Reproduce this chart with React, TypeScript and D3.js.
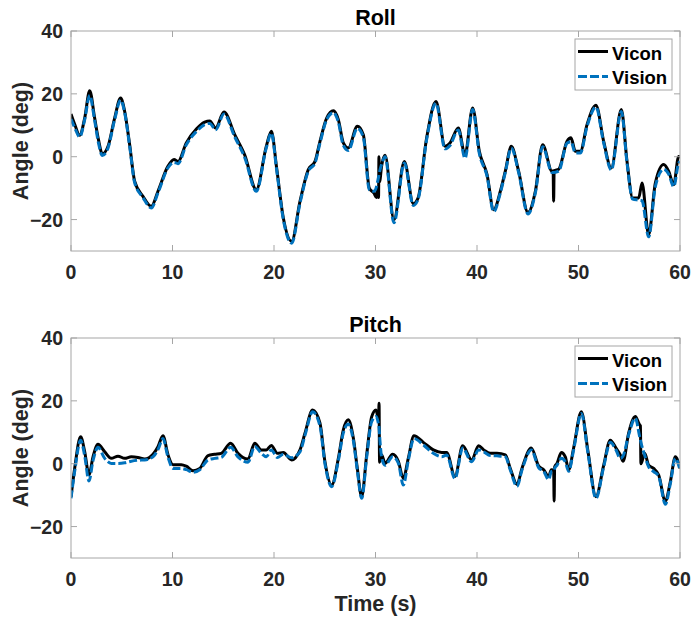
import React from 'react'
import * as d3 from 'd3'

// Roll (deg) – time stamps in seconds
const rollTime = [0, 0.4, 0.85, 1.35, 1.84, 2.33, 2.7, 3.09, 3.65, 4.3, 4.89, 5.29, 5.78, 6.27, 7.09, 7.91, 8.57, 9.56, 10.15, 10.54, 11.36, 12.35, 13.17, 13.67, 14.25, 15.07, 16.13, 17.11, 18.26, 19.24, 19.74, 20.26, 20.92, 21.74, 22.56, 23.38, 24.04, 24.53, 25.19, 25.85, 26.34, 26.83, 27.32, 28.21, 28.8, 29.39, 29.85, 30.1, 30.2, 30.3, 30.34, 30.4, 30.6, 30.94, 31.82, 32.84, 33.73, 34.2, 35.04, 35.96, 36.85, 37.34, 38.16, 38.82, 39.57, 40.23, 40.99, 41.64, 42.3, 42.79, 43.38, 44.1, 45.02, 45.75, 46.47, 47.39, 47.5, 47.55, 47.6, 48.05, 48.87, 49.26, 49.69, 50.18, 50.84, 51.72, 52.48, 53.23, 54.22, 54.78, 55.34, 55.93, 56.26, 56.91, 57.57, 58.39, 58.88, 59.38, 59.87, 60]
const rollVicon = [13.6, 10, 6.8, 12.3, 21, 12.3, 5.5, 0.9, 3.3, 12.3, 18.7, 14.4, 3.8, -7.8, -12.6, -15.8, -11, -3, -0.9, -1.5, 4.4, 8.8, 11, 11.4, 9.1, 14.2, 7, 0.6, -10.5, 3.3, 8.1, -3.6, -19.5, -26.9, -14.2, -4.1, -1.5, 4.9, 12.3, 14.6, 11.8, 4.4, 2.8, 9.7, 7, -10, -11.6, -13, -10, -13, 0, -8, -3, 0.5, -20, -1.5, -15, -13.1, 6, 17.6, 3.3, 4.4, 9.1, 0.6, 15.5, 1.7, -5.7, -16.9, -11, -4.6, 3.3, -4.6, -17.7, -11, 3.8, -4.6, -4.5, -14.2, -4.5, -4, 4.9, 6, 1.7, 1.7, 10.2, 16.4, 4.9, -3.6, 15, -1.5, -13.1, -13.1, -8.4, -24.8, -8.4, -2.5, -4.6, -8.9, 0.1, -0.5]
const rollVision = [12, 9, 6.3, 11.8, 19.5, 11.5, 4.5, 0.4, 2.8, 11.8, 18, 14, 3.3, -8.2, -13, -16.3, -11.5, -3.5, -1.8, -2.2, 3.8, 8, 10.2, 10.6, 8.6, 13.6, 6.3, -0.2, -11, 2.8, 7.5, -4.2, -20, -27.5, -14.8, -4.6, -2, 4.3, 11.8, 14, 11, 3.6, 2, 9, 6.2, -10.5, -11, -9.5, -8, -6.5, -5.8, -4.8, -2.5, 0, -21, -2, -15.5, -13.5, 5.5, 17, 2.5, 3.6, 8.5, -0.5, 15, 1, -6.2, -17.5, -11.5, -5, 2.8, -5, -18.2, -11.5, 3.2, -5, -5, -5, -5, -4.6, 4.3, 4.8, 1.2, 1.2, 9.6, 15.8, 4.4, -4.2, 14.4, -2, -13.5, -13.8, -14, -25.5, -9.5, -4, -5.5, -9.5, -2, -1.5]

// Pitch (deg)
const pitchTime = [0, 0.36, 0.95, 1.35, 1.77, 2.17, 2.66, 3.32, 3.97, 4.63, 5.29, 5.94, 6.6, 7.26, 8.08, 8.57, 9.06, 9.56, 10.05, 10.87, 11.36, 12.02, 12.68, 13.5, 14.15, 14.8, 15.73, 16.45, 17.44, 18.1, 18.75, 19.24, 19.74, 20.33, 20.92, 21.74, 22.56, 23.05, 23.81, 24.53, 25.02, 25.68, 26.34, 26.83, 27.32, 27.82, 28.21, 28.64, 29.13, 29.62, 30.05, 30.3, 30.35, 30.4, 30.61, 30.94, 31.69, 32.25, 32.74, 33.23, 33.79, 34.71, 35.7, 36.52, 37.01, 37.83, 38.59, 39.47, 40.16, 40.66, 41.3, 41.97, 42.79, 43.28, 43.94, 44.43, 45.35, 46.08, 46.57, 47.06, 47.32, 47.55, 47.6, 47.65, 47.88, 48.31, 48.7, 49.03, 49.52, 50.28, 50.94, 51.72, 52.48, 53.13, 53.69, 54.12, 54.4, 54.94, 55.6, 56.0, 56.1, 56.15, 56.52, 56.91, 57.4, 57.9, 58.56, 59.05, 59.54, 60]
const pitchVicon = [-10.5, -1.5, 8.6, 3.8, -3.5, 2.2, 6.2, 3.8, 1.7, 2.4, 1.7, 2.2, 2, 1.5, 3, 5.4, 8.9, 2.8, -0.3, -0.3, -0.8, -2.2, -1.5, 2.6, 3, 3.3, 6.5, 3.3, 1.5, 6.5, 4.4, 4.4, 5.8, 3.3, 3.6, 1.2, 4.4, 9.7, 17.1, 12.9, 0.6, -6.8, 1.7, 10.8, 14, 8.1, -1.5, -10.5, 2.8, 14.9, 17.1, 14, 19.2, 0.5, 2.8, 0.1, 3, 0.8, -4.7, 1.7, 8.9, 6.8, 4.4, 3.6, 3.6, -4.1, 5.7, 1.2, 5.7, 4.4, 3.3, 3.3, 2.8, -1.5, -6.6, -1.5, 5, -0.8, -1.9, -4.1, -1.9, -2, -11.9, -1, 0.1, 3.6, 2.2, -1.9, 5, 16.5, 3.8, -10.5, -0.5, 7.5, 5, 2.8, 0.8, 9.7, 15, 12.5, 12.1, 0, 3.3, -0.5, -1.5, -3.6, -11.9, -5.7, 2.2, -1.5]
const pitchVision = [-11, -2.5, 7.5, 2.5, -5.5, 1, 5.2, 1.7, 0.1, 0.1, 0.3, 0.8, 1.1, 1.2, 2.2, 4.5, 8, 2, -1.5, -1.5, -1.9, -2.7, -1.9, 1.2, 1.7, 2, 5.2, 2.2, 0.5, 5.5, 3.3, 2.2, 4.4, 2, 3, 1.9, 3.8, 9, 16.5, 12, 0, -7.3, 1, 9.8, 12.6, 7.3, -2.2, -11, 2, 13.4, 15, 12.5, 11.5, 9, 2, -0.5, 2.2, 0.2, -6.8, 1, 8, 6, 3.3, 2.2, 2.8, -4.7, 5, 0.6, 4.4, 3.8, 2.6, 2.5, 2.2, -2, -7.2, -2, 4.4, -1.3, -2.4, -5.1, -2.5, -2.3, -2, -1.5, -0.5, 1.7, 0.6, -2.4, 4.4, 16, 3.2, -11, -1, 6.8, 4.4, 1.7, 2.5, 9.2, 14.5, 9, 7.5, 6.8, 2.7, -1, -2.5, -4, -12.9, -6.3, 1.7, -2]

const xTicks = [0, 10, 20, 30, 40, 50, 60]
const yTicks = [-20, 0, 20, 40]
const seriesNames = ['Vicon', 'Vision']

const FONT = '"Liberation Sans", Arial, Helvetica, sans-serif'
const TEXT = '#262626'
const AXIS = '#a6a6a6'
const BLUE = '#0072BD'
const LW = 3

function Panel({ title, top, bottom, time, vicon, vision }) {
    const left = 71
    const right = 680
    const tick = 6

    const x = d3.scaleLinear().domain([0, 60]).range([left, right])
    const y = d3.scaleLinear().domain([-30, 40]).range([bottom, top])

    const line = d3
        .line<number>()
        .x((d, i) => x(time[i]))
        .y((d) => y(d))
        .curve(d3.curveMonotoneX)

    const lx = right - 105
    const ly = top + 8

    return (
        <g>
            <defs>
                <clipPath id={'clip-' + title}>
                    <rect x={left} y={top} width={right - left} height={bottom - top} />
                </clipPath>
            </defs>
            <g clipPath={'url(#clip-' + title + ')'}>
                <path d={line(vicon) || ''} fill="none" stroke="#000" strokeWidth={LW} strokeLinejoin="round" />
                <path d={line(vision) || ''} fill="none" stroke={BLUE} strokeWidth={LW} strokeDasharray="8,3" />
            </g>

            {/* box */}
            <rect x={left} y={top} width={right - left} height={bottom - top} fill="none" stroke={AXIS} strokeWidth={1} />

            {/* x ticks */}
            {xTicks.map((t) => (
                <g key={'x' + t}>
                    <line x1={x(t)} x2={x(t)} y1={bottom} y2={bottom - tick} stroke={AXIS} />
                    <line x1={x(t)} x2={x(t)} y1={top} y2={top + tick} stroke={AXIS} />
                    <text x={x(t)} y={bottom + 27.5} textAnchor="middle" fontSize={19.5} fontWeight="bold" fill={TEXT}>
                        {t}
                    </text>
                </g>
            ))}

            {/* y ticks */}
            {yTicks.map((v) => (
                <g key={'y' + v}>
                    <line x1={left} x2={left + tick} y1={y(v)} y2={y(v)} stroke={AXIS} />
                    <line x1={right} x2={right - tick} y1={y(v)} y2={y(v)} stroke={AXIS} />
                    <text x={left - 8} y={y(v) + 7} textAnchor="end" fontSize={19.5} fontWeight="bold" fill={TEXT}>
                        {v < 0 ? '\u2212' + Math.abs(v) : v}
                    </text>
                </g>
            ))}

            <text x={(left + right) / 2} y={top - 6} textAnchor="middle" fontSize={21.5} fontWeight="bold" fill="#000">
                {title}
            </text>

            <text
                transform={`translate(${28},${(top + bottom) / 2}) rotate(-90)`}
                textAnchor="middle"
                fontSize={21.5}
                fontWeight="bold"
                fill={TEXT}
            >
                Angle (deg)
            </text>

            {/* legend */}
            <rect x={lx} y={ly} width={97} height={51} fill="#fff" stroke={AXIS} />
            {seriesNames.map((name, i) => (
                <g key={name}>
                    <line
                        x1={lx + 3}
                        x2={lx + 33}
                        y1={ly + 12.5 + i * 25}
                        y2={ly + 12.5 + i * 25}
                        stroke={i === 0 ? '#000' : BLUE}
                        strokeWidth={LW}
                        strokeDasharray={i === 0 ? null : '9,3'}
                    />
                    <text x={lx + 37} y={ly + 20.5 + i * 24.5} fontSize={18.5} fontWeight="bold" fill="#000">
                        {name}
                    </text>
                </g>
            ))}
        </g>
    )
}

export default function App() {
    return (
        <svg
            width={691}
            height={626}
            style={{ position: 'absolute', left: 0, top: 0, background: '#fff' }}
            fontFamily={FONT}
        >
            <rect width={691} height={626} fill="#fff" />
            <Panel title="Roll" top={31} bottom={251} time={rollTime} vicon={rollVicon} vision={rollVision} />
            <Panel title="Pitch" top={338} bottom={558} time={pitchTime} vicon={pitchVicon} vision={pitchVision} />
            <text x={375.5} y={611} textAnchor="middle" fontSize={21.5} fontWeight="bold" fill={TEXT}>
                Time (s)
            </text>
        </svg>
    )
}
